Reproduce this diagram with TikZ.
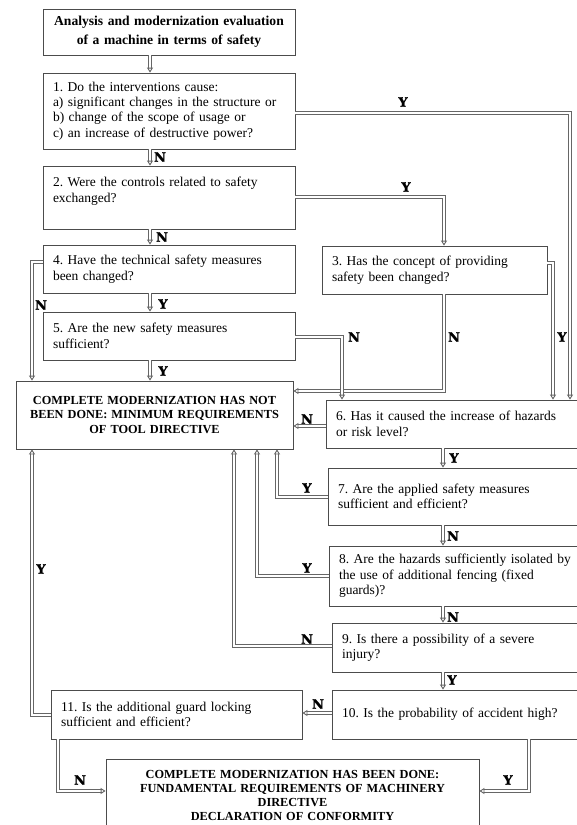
\documentclass[tikz,border=0pt]{standalone}
\usepackage{fontspec}
\setmainfont{Liberation Serif}
\newfontfamily\labfamily{DejaVu Serif}[BoldFeatures={FakeBold=1.6}]
\usetikzlibrary{arrows.meta}
\frenchspacing
\newcommand\qfont{\fontsize{13.5}{15.4}\selectfont}
\newcommand\cfont{\fontsize{12.3}{14.2}\selectfont\bfseries}
\newcommand\tfont{\fontsize{13.6}{19}\selectfont\bfseries}
\tikzset{
  qbox/.style={draw=black!70, line width=0.8pt, fill=white, inner xsep=10pt, inner ysep=0pt, align=left, font=\qfont},
  cbox/.style={draw=black!70, line width=0.8pt, fill=white, inner xsep=10pt, inner ysep=0pt, align=center, font=\cfont},
  conn/.style={draw=black!60, line width=0.9pt, double=white, double distance=1.6pt,
    -{Triangle[open, length=5pt, width=6pt]}},
  lab/.style={font=\labfamily\bfseries\fontsize{13}{13}\selectfont, inner sep=0pt}
}
\begin{document}
\begin{tikzpicture}[x=1pt, y=-1pt]
\useasboundingbox (0,0) rectangle (576,825);
% boxes
\node[cbox, font=\tfont, minimum width=252pt, minimum height=46pt, text width=232pt] (t0) at (169,32)
  {Analysis and modernization evaluation\\of a machine in terms of safety};
\node[qbox, minimum width=252pt, minimum height=76pt, text width=232pt] (b1) at (169,111)
  {1. Do the interventions cause:\\a) significant changes in the structure or\\b) change of the scope of usage or\\c) an increase of destructive power?};
\node[qbox, minimum width=252pt, minimum height=63pt, text width=232pt] (b2) at (169,197.5)
  {2. Were the controls related to safety\\exchanged?\\\mbox{}};
\node[qbox, minimum width=252pt, minimum height=48pt, text width=232pt] (b4) at (169,269)
  {4. Have the technical safety measures\\been changed?};
\node[qbox, minimum width=252pt, minimum height=48pt, text width=232pt] (b5) at (169,336)
  {5. Are the new safety measures\\sufficient?};
\node[qbox, minimum width=225pt, minimum height=48pt, text width=205pt] (b3) at (434.5,270)
  {3. Has the concept of providing\\safety been changed?};
\node[cbox, minimum width=277pt, minimum height=68pt, text width=257pt] (nd) at (154.5,415)
  {COMPLETE MODERNIZATION HAS NOT\\BEEN DONE: MINIMUM REQUIREMENTS\\OF TOOL DIRECTIVE};
\node[qbox, minimum width=264pt, minimum height=48pt, text width=244pt] (b6) at (458,424)
  {6. Has it caused the increase of hazards\\or risk level?};
\node[qbox, minimum width=262pt, minimum height=57pt, text width=242pt] (b7) at (459,496.5)
  {7. Are the applied safety measures\\sufficient and efficient?};
\node[qbox, minimum width=261pt, minimum height=60pt, text width=241pt] (b8) at (459.5,576)
  {8. Are the hazards sufficiently isolated by\\the use of additional fencing (fixed\\guards)?};
\node[qbox, minimum width=258pt, minimum height=49pt, text width=238pt] (b9) at (461,647.5)
  {9. Is there a possibility of a severe\\injury?};
\node[qbox, minimum width=258pt, minimum height=49pt, text width=238pt] (b10) at (461,714.5)
  {10. Is the probability of accident high?};
\node[qbox, minimum width=251pt, minimum height=49pt, text width=231pt] (b11) at (176.5,714.5)
  {11. Is the additional guard locking\\sufficient and efficient?};
\node[cbox, minimum width=373pt, minimum height=73pt, text width=353pt] (fin) at (292.5,795.5)
  {COMPLETE MODERNIZATION HAS BEEN DONE:\\FUNDAMENTAL REQUIREMENTS OF MACHINERY\\DIRECTIVE\\DECLARATION OF CONFORMITY};
% helper coordinates
\coordinate (m) at (150,0);
\coordinate (r) at (443,0);
\coordinate (c1) at (570,113);
\coordinate (c2) at (444,197);
\coordinate (c3) at (553,263);
\coordinate (c4) at (444,391);
\coordinate (c5) at (32,262);
\coordinate (c6) at (342,337);
\coordinate (c7) at (310,426);
\coordinate (c10) at (277,497);
\coordinate (c11) at (257,576);
\coordinate (c12) at (234,646);
\coordinate (c13) at (317,713);
\coordinate (c14) at (32,715);
\coordinate (c15) at (58,791);
\coordinate (c16) at (529,791);
% connectors
\draw[conn] (m |- t0.south) -- (m |- b1.north);
\draw[conn] (m |- b1.south) -- (m |- b2.north);
\draw[conn] (m |- b2.south) -- (m |- b4.north);
\draw[conn] (m |- b4.south) -- (m |- b5.north);
\draw[conn] (m |- b5.south) -- (m |- nd.north);
\draw[conn] (b1.east |- c1) -| (c1 |- b6.north);
\draw[conn] (b2.east |- c2) -| (c2 |- b3.north);
\draw[conn] (b3.east |- c3) -| (c3 |- b6.north);
\draw[conn] (c4 |- b3.south) |- (nd.east |- c4);
\draw[conn] (b4.west |- c5) -| (c5 |- nd.north);
\draw[conn] (b5.east |- c6) -| (c6 |- b6.north);
\draw[conn] (b6.west |- c7) -- (nd.east |- c7);
\draw[conn] (r |- b6.south) -- (r |- b7.north);
\draw[conn] (r |- b7.south) -- (r |- b8.north);
\draw[conn] (r |- b8.south) -- (r |- b9.north);
\draw[conn] (r |- b9.south) -- (r |- b10.north);
\draw[conn] (b7.west |- c10) -| (c10 |- nd.south);
\draw[conn] (b8.west |- c11) -| (c11 |- nd.south);
\draw[conn] (b9.west |- c12) -| (c12 |- nd.south);
\draw[conn] (b10.west |- c13) -- (b11.east |- c13);
\draw[conn] (b11.west |- c14) -| (c14 |- nd.south);
\draw[conn] (c15 |- b11.south) |- (fin.west |- c15);
\draw[conn] (c16 |- b10.south) |- (fin.east |- c16);
% labels
\node[lab] (l1) at (403,102) {Y};
\node[lab] (l2) at (160,157) {N};
\node[lab] (l3) at (406,187) {Y};
\node[lab] (l4) at (162,237) {N};
\node[lab] (l5) at (41,305) {N};
\node[lab] (l6) at (163,304) {Y};
\node[lab] (l7) at (354,337) {N};
\node[lab] (l8) at (454,337) {N};
\node[lab] (l9) at (562,337) {Y};
\node[lab] (l10) at (163,371) {Y};
\node[lab] (l11) at (307,419) {N};
\node[lab] (l12) at (454,458) {Y};
\node[lab] (l13) at (307,488) {Y};
\node[lab] (l14) at (453,536) {N};
\node[lab] (l15) at (307,568) {Y};
\node[lab] (l16) at (453,617) {N};
\node[lab] (l17) at (307,639) {N};
\node[lab] (l18) at (452,680) {Y};
\node[lab] (l19) at (318,704) {N};
\node[lab] (l20) at (41,569) {Y};
\node[lab] (l21) at (80,780) {N};
\node[lab] (l22) at (508,780) {Y};
\end{tikzpicture}
\end{document}
